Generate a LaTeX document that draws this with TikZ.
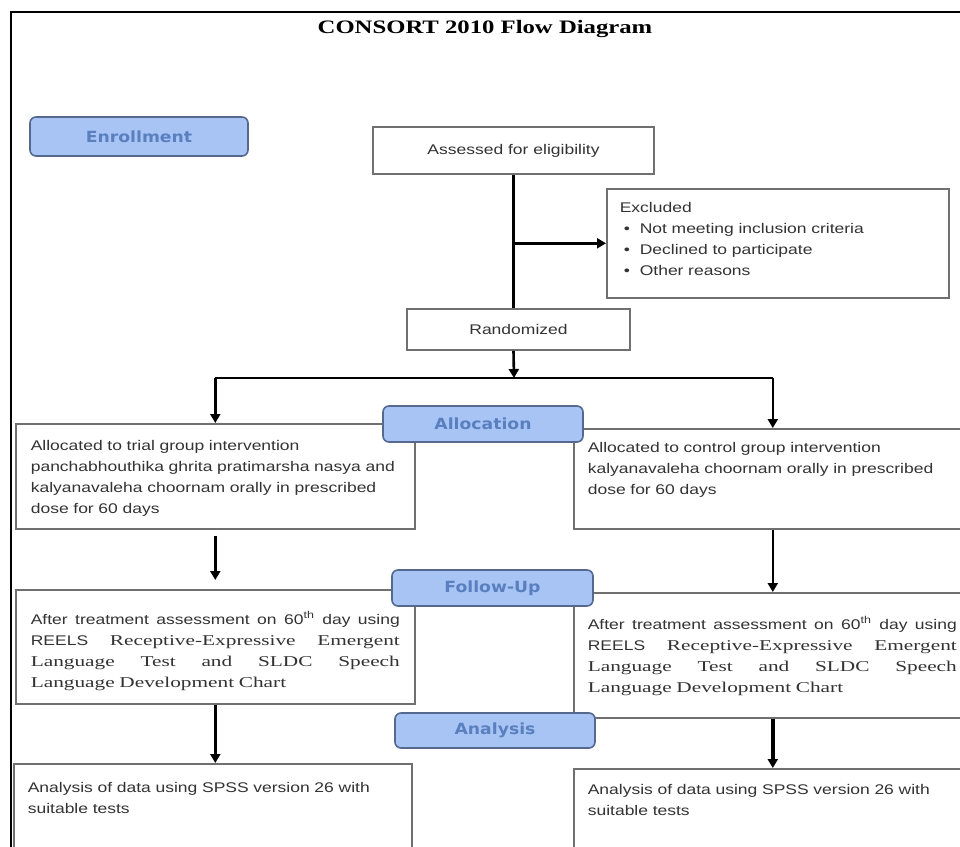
\documentclass[tikz,border=0pt]{standalone}
\usepackage{fontspec}
\usetikzlibrary{arrows.meta}

\newfontfamily\boxsans[FakeStretch=1.25]{Liberation Sans}
\newfontfamily\boxserif[FakeStretch=1.42]{Liberation Serif}
\newfontfamily\phasefont[FakeStretch=1.12]{DejaVu Sans}
\newfontfamily\titlefont[FakeStretch=1.3]{Liberation Serif}
\newcommand{\spread}[1]{\leavevmode\hbox to 184.5pt{\spaceskip=0.3em plus 1fil\relax #1}}
\newcommand{\serifpart}{\boxserif\fontsize{7.5}{10.5}\selectfont}

\definecolor{phasefill}{HTML}{A8C4F5}
\definecolor{phaseline}{HTML}{55698F}
\definecolor{phasetext}{HTML}{5A7FBF}
\definecolor{boxline}{HTML}{707070}
\definecolor{boxtext}{HTML}{333333}

\begin{document}
\begin{tikzpicture}[x=0.5pt, y=-0.5pt,
		phase/.style={draw=phaseline, fill=phasefill, line width=0.8pt, rounded corners=3pt,
			text=phasetext, font=\phasefont\bfseries\fontsize{7.7}{9}\selectfont},
		cbox/.style={draw=boxline, line width=0.8pt, fill=white, text=boxtext,
			font=\boxsans\fontsize{7}{10.5}\selectfont},
		tbox/.style={cbox, anchor=north west, align=left, inner xsep=7pt, inner ysep=0pt},
		arr/.style={-{Triangle[width=5pt,length=4.5pt]}, line width=1.3pt}]
		\clip (0,0) rectangle (960,847);
		\draw[line width=1.3pt] (11,860) -- (11,12) -- (970,12);
		\node[font=\titlefont\bfseries\fontsize{9.5}{11}\selectfont] (title) at (485,29) {CONSORT 2010 Flow Diagram};
		% enrollment
		\node[cbox, minimum width=140.5pt, minimum height=23.5pt] (assess) at (513.5,150.5) {Assessed for eligibility};
		\node[tbox, text width=158pt, inner xsep=6.5pt, text height=12pt, text depth=42.5pt] (excl) at (606,188)
		{Excluded\\
			\makebox[10pt][l]{\hspace{2pt}\textbullet}Not meeting inclusion criteria\\
			\makebox[10pt][l]{\hspace{2pt}\textbullet}Declined to participate\\
			\makebox[10pt][l]{\hspace{2pt}\textbullet}Other reasons};
		\node[cbox, minimum width=111.5pt, minimum height=20.5pt] (rand) at (518.5,329.5) {Randomized};
		% allocation
		\node[tbox, text width=184.5pt, inner xsep=7.5pt, text height=13.5pt, text depth=39pt] (trialAlloc) at (15,423)
		{Allocated to trial group intervention\\
			panchabhouthika ghrita pratimarsha nasya and\\
			kalyanavaleha choornam orally in prescribed\\
			dose for 60 days};
		\node[tbox, text width=185pt, text height=12pt, text depth=38pt] (ctrlAlloc) at (573,428)
		{Allocated to control group intervention\\
			kalyanavaleha choornam orally in prescribed\\
			dose for 60 days};
		% follow-up
		\node[tbox, text width=184.5pt, inner xsep=7.5pt, text height=17.5pt, text depth=39.5pt] (trialFollow) at (15,589)
		{\spread{After treatment assessment on 60\textsuperscript{th} day using}\\
			\spread{REELS {\serifpart Receptive-Expressive Emergent}}\\
			\spread{\serifpart Language Test and SLDC Speech}\\
			{\serifpart Language Development Chart}};
		\node[tbox, text width=185pt, text height=18.5pt, text depth=44pt] (ctrlFollow) at (573,592)
		{\spread{After treatment assessment on 60\textsuperscript{th} day using}\\
			\spread{REELS {\serifpart Receptive-Expressive Emergent}}\\
			\spread{\serifpart Language Test and SLDC Speech}\\
			{\serifpart Language Development Chart}};
		% analysis
		\node[tbox, text width=185pt, text height=14.5pt, text depth=60pt] (trialAna) at (13,763)
		{Analysis of data using SPSS version 26 with\\ suitable tests};
		\node[tbox, text width=185pt, text height=13pt, text depth=60pt] (ctrlAna) at (573,768)
		{Analysis of data using SPSS version 26 with\\ suitable tests};
		% connectors
		\coordinate (split) at (514,378);
		\draw[line width=1.3pt] (assess.south) -- (assess.south |- rand.north);
		\draw[arr] (assess.south |- excl.west) -- (excl.west);
		\draw[arr] (rand.south -| assess.south) -- (split);
		\draw[line width=1.3pt] (split -| trialAlloc.north) -- (split -| ctrlAlloc.north);
		\draw[arr] (split -| trialAlloc.north) -- (trialAlloc.north);
		\draw[arr] (split -| ctrlAlloc.north) -- (ctrlAlloc.north);
		\draw[arr] ([yshift=-3pt]trialAlloc.south) -- ([yshift=4.5pt]trialFollow.north);
		\draw[arr] (ctrlAlloc.south) -- (ctrlFollow.north);
		\draw[arr] (trialFollow.south) -- (trialFollow.south |- trialAna.north);
		\draw[arr, line width=2pt] (ctrlFollow.south) -- (ctrlFollow.south |- ctrlAna.north);
		% phase labels
		\node[phase, minimum width=109pt, minimum height=19.5pt] (enroll) at (139,136.5) {Enrollment};
		\node[phase, minimum width=100pt, minimum height=18pt] (alloc) at (483,424) {Allocation};
		\node[phase, minimum width=100.5pt, minimum height=18pt] (follow) at (492.5,588) {Follow-Up};
		\node[phase, minimum width=100pt, minimum height=17.5pt] (analysis) at (495,730.5) {Analysis};
\end{tikzpicture}
\end{document}
